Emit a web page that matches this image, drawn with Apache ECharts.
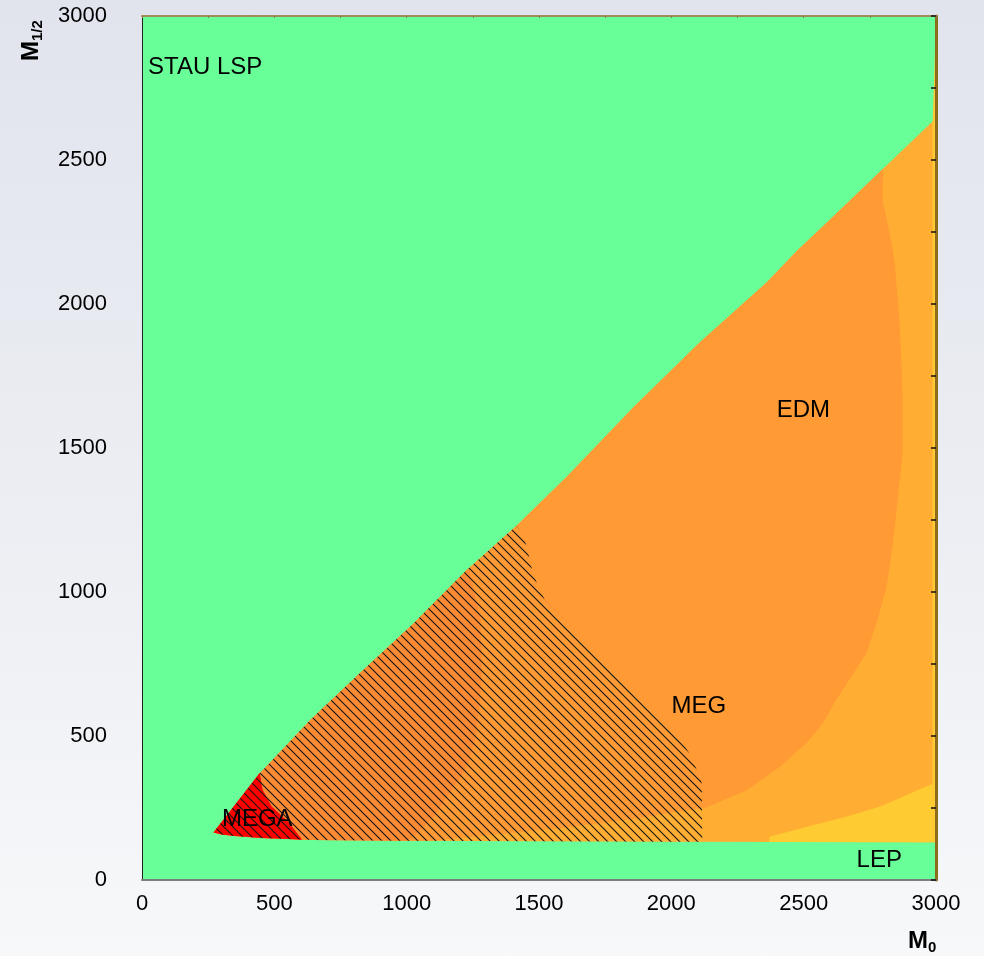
<!DOCTYPE html>
<html>
<head>
<meta charset="utf-8">
<title>mSUGRA plane</title>
<style>
  html, body { margin: 0; padding: 0; width: 984px; height: 956px; overflow: hidden;
    background: linear-gradient(to bottom, #e1e4ed 0%, #eceef3 55%, #f7f8fa 100%); }
  #chart { width: 984px; height: 956px; }
</style>
<script src="https://cdn.jsdelivr.net/npm/echarts@6/dist/echarts.min.js"></script>
</head>
<body>
<div id="chart"></div>
<script>
// Tick values for the two axes
const xTicks = [0, 500, 1000, 1500, 2000, 2500, 3000];
const yTicks = [0, 500, 1000, 1500, 2000, 2500, 3000];

// Region boundaries, points given as [M0, M1/2]
// upper edge of the allowed region (stau LSP above it)
const stauEdge = [[270,165],[445,370],[635,555],[825,720],[1025,890],[1225,1075],[1415,1230],
  [1605,1400],[1855,1640],[2105,1865],[2360,2075],[2475,2185],[2585,2280],[2800,2470],
  [2965,2615],[3000,2645]];
// lower edge of the allowed region (LEP bound below it)
const lepEdge = [[270,165],[300,158],[350,153],[450,146],[550,142],[650,139],[1000,136],
  [2000,133],[3000,131]];
// right edge of the MEGA-excluded patch
const megaEdge = [[445,372],[455,315],[490,255],[555,200],[605,140]];
// right edge of the darker band
const darkEdge = [[1235,1083],[1278,915],[1285,720],[1265,510],[1228,392],[1163,302],
  [1100,219],[1025,149],[1000,136]];
// outer edge of the EDM-excluded area
const edmEdge = [[2800,2470],[2798,2361],[2825,2246],[2843,2153],[2862,1945],[2869,1806],
  [2874,1691],[2874,1483],[2855,1319],[2836,1156],[2813,1017],[2779,903],[2738,788],
  [2623,625],[2573,545],[2511,476],[2409,392],[2285,312],[2133,253],[1880,215],[1580,180],
  [1280,153],[1090,136]];
// right edge of the MEG-excluded (hatched) area
const megEdge = [[1415,1230],[1439,1198],[1454,1156],[1476,1069],[1492,1031],[1522,972],
  [2024,503],[2077,427],[2115,337],[2117,133]];
// lower-right yellow patch
const yellowEdge = [[2370,132],[2370,150],[2535,190],[2660,220],[2790,255],[2975,330],
  [3000,338],[3000,131]];
// narrow column along M0 = 3000
const stripEdge = [[2987,131],[2987,2625],[2992,2750],[2996,2880],[3000,2950],[3000,131]];

// Region names and where they sit
const regionLabels = [[23,2823,'STAU LSP'],[2398,1632,'EDM'],[2001,604,'MEG'],
  [302,212,'MEGA'],[2700,69,'LEP']];

// Closed outline: stau edge up to where `edge` starts, then `edge`, then back along the LEP edge
function outline(edge) {
  const x0 = edge[0][0], x1 = edge[edge.length - 1][0];
  const top = stauEdge.filter(p => p[0] < x0);
  const bottom = lepEdge.filter(p => p[0] < x1).reverse();
  return top.concat(edge, bottom);
}
const allowedPoly = stauEdge.concat(lepEdge.slice().reverse());

function hatchPattern(step) {
  const c = document.createElement('canvas');
  c.width = step; c.height = step;
  const g = c.getContext('2d');
  g.strokeStyle = '#141414';
  g.lineWidth = 1.1;
  g.beginPath();
  g.moveTo(-1, -1); g.lineTo(step + 1, step + 1);
  g.moveTo(-1, step - 1); g.lineTo(1, step + 1);
  g.moveTo(step - 1, -1); g.lineTo(step + 1, 1);
  g.stroke();
  return { image: c, repeat: 'repeat' };
}

function region(name, poly, fill, z) {
  return {
    type: 'custom', name: name, coordinateSystem: 'cartesian2d',
    xAxisIndex: 0, yAxisIndex: 0, clip: true, silent: true, z: z,
    data: [[0, 0]],
    renderItem: function (params, api) {
      return {
        type: 'polygon',
        shape: { points: poly.map(p => api.coord(p)) },
        style: { fill: fill, stroke: null }
      };
    }
  };
}

const labelSeries = {
  type: 'custom', name: 'labels', coordinateSystem: 'cartesian2d',
  xAxisIndex: 0, yAxisIndex: 0, silent: true, z: 9,
  data: regionLabels.map(l => [l[0], l[1]]),
  renderItem: function (params, api) {
    const l = regionLabels[params.dataIndex];
    const pt = api.coord([l[0], l[1]]);
    return {
      type: 'text', x: pt[0], y: pt[1],
      style: { text: l[2], fill: '#000', font: '24px "Liberation Sans", Arial, sans-serif',
        align: 'left', verticalAlign: 'middle' }
    };
  }
};

const chart = echarts.init(document.getElementById('chart'), null, { renderer: 'canvas' });

const labelFont = { fontSize: 22, fontFamily: '"Liberation Sans", Arial, sans-serif', color: '#000',
  formatter: v => String(v) };

chart.setOption({
  animation: false,
  backgroundColor: 'transparent',
  grid: { left: 142, right: 48, top: 16, bottom: 76, show: true,
    backgroundColor: '#69ff98', borderWidth: 0 },
  xAxis: [
    { type: 'value', min: xTicks[0], max: xTicks[xTicks.length - 1], interval: xTicks[1] - xTicks[0],
      position: 'bottom', z: 10,
      axisLine: { show: true, onZero: false, lineStyle: { color: '#7d7d7d', width: 2 } },
      axisTick: { show: false }, splitLine: { show: false },
      axisLabel: Object.assign({ margin: 13 }, labelFont) },
    { type: 'value', min: 0, max: 3000, interval: 250, position: 'top', z: 10,
      axisLine: { show: true, onZero: false, lineStyle: { color: '#a08c58', width: 2 } },
      axisTick: { show: true, inside: true, length: 2, lineStyle: { color: '#8a7a4a' } },
      axisLabel: { show: false }, splitLine: { show: false } }
  ],
  yAxis: [
    { type: 'value', min: yTicks[0], max: yTicks[yTicks.length - 1], interval: yTicks[1] - yTicks[0],
      position: 'left', z: 10,
      axisLine: { show: true, onZero: false, lineStyle: { color: '#222', width: 1 } },
      axisTick: { show: false }, splitLine: { show: false },
      axisLabel: Object.assign({ margin: 35 }, labelFont) },
    { type: 'value', min: 0, max: 3000, interval: 250, position: 'right', z: 10,
      axisLine: { show: true, onZero: false, lineStyle: { color: '#8c6d1c', width: 3 } },
      axisTick: { show: true, inside: true, length: 5, lineStyle: { color: '#111', width: 1.5 } },
      axisLabel: { show: false }, splitLine: { show: false } }
  ],
  series: [
    region('allowed', allowedPoly, '#ffae33', 1),
    region('EDM', outline(edmEdge), '#ff9a35', 2),
    region('band', outline(darkEdge), '#fa8b34', 3),
    region('MEGA', outline(megaEdge), '#ff0000', 4),
    region('yellow', yellowEdge, '#ffcb33', 5),
    region('strip', stripEdge, '#ffc933', 6),
    region('MEG', outline(megEdge), hatchPattern(9), 7),
    labelSeries
  ],
  graphic: [
    { type: 'group', x: 908, y: 941, children: [
      { type: 'text', x: 0, y: 0, style: { text: 'M', fill: '#000',
        font: 'bold 24px "Liberation Sans", Arial, sans-serif', align: 'left', verticalAlign: 'middle' } },
      { type: 'text', x: 20, y: 7, style: { text: '0', fill: '#000',
        font: 'bold 15px "Liberation Sans", Arial, sans-serif', align: 'left', verticalAlign: 'middle' } }
    ] },
    { type: 'group', x: 31, y: 61, rotation: Math.PI / 2, children: [
      { type: 'text', x: 0, y: 0, style: { text: 'M', fill: '#000',
        font: 'bold 24px "Liberation Sans", Arial, sans-serif', align: 'left', verticalAlign: 'middle' } },
      { type: 'text', x: 20, y: 7, style: { text: '1/2', fill: '#000',
        font: 'bold 15px "Liberation Sans", Arial, sans-serif', align: 'left', verticalAlign: 'middle' } }
    ] }
  ]
});
</script>
</body>
</html>
